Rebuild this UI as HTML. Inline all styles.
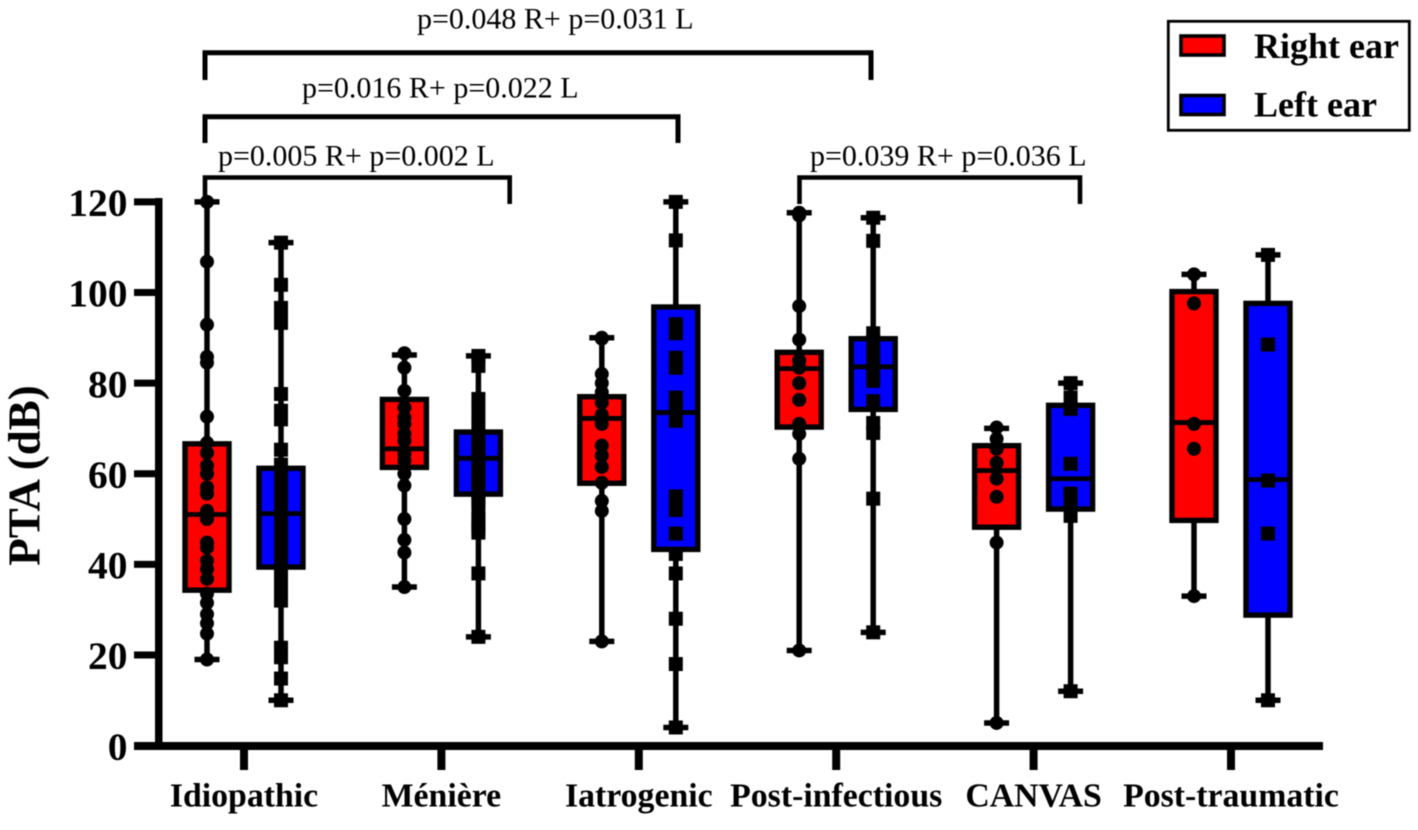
<!DOCTYPE html>
<html lang="en">
<head>
<meta charset="utf-8">
<title>PTA by vestibular aetiology</title>
<style>
  html, body { margin: 0; padding: 0; background: #fff; }
  #chart { display: block; width: 1418px; height: 830px; filter: blur(0.5px); }
  text { font-family: "Liberation Serif", serif; fill: #000; }
  .bold { font-weight: bold; }
</style>
</head>
<body>
<svg id="chart" xmlns="http://www.w3.org/2000/svg" width="1418" height="830" viewBox="0 0 1418 830">
  <rect x="0" y="0" width="1418" height="830" fill="#fff"/>

  <g id="axes">
    <rect x="155" y="198" width="7.5" height="552" fill="#000"/>
    <rect x="134" y="742" width="1189" height="8" fill="#000"/>
  </g>
  <g id="ticks"></g>
  <text class="bold" font-size="45" text-anchor="middle" transform="translate(39.5 475.5) rotate(-90)">PTA (dB)</text>
  <g id="plot"></g>

  <g fill="none" stroke="#000" stroke-linecap="butt" stroke-linejoin="miter">
    <path stroke-width="5" d="M205 80 V52.7 H871 V80"/>
    <path stroke-width="5" d="M205 143 V116.7 H678 V143"/>
    <path stroke-width="4.6" d="M205 204 V177.5 H509.7 V204"/>
    <path stroke-width="4.6" d="M799.5 204 V177.5 H1080 V204"/>
  </g>
  <g font-size="30" fill="#111">
    <text x="417" y="28.5">p=0.048 R+ p=0.031 L</text>
    <text x="302" y="97.7">p=0.016 R+ p=0.022 L</text>
    <text x="218" y="165.7">p=0.005 R+ p=0.002 L</text>
    <text x="810" y="165.7">p=0.039 R+ p=0.036 L</text>
  </g>

  <g>
    <rect x="1168.3" y="21.3" width="241" height="109" fill="#fff" stroke="#000" stroke-width="2.8"/>
    <rect x="1181" y="36" width="43" height="19" fill="#ff0000" stroke="#000" stroke-width="3.6"/>
    <text class="bold" x="1254" y="58" font-size="36">Right ear</text>
    <rect x="1181" y="95.5" width="43" height="19" fill="#0000ff" stroke="#000" stroke-width="3.6"/>
    <text class="bold" x="1254" y="116.7" font-size="36">Left ear</text>
  </g>
</svg>

<script>
const categories = ["Idiopathic", "Ménière", "Iatrogenic", "Post-infectious", "CANVAS", "Post-traumatic"];
const yTickLabels = [0, 20, 40, 60, 80, 100, 120];

const rightMin = [19, 35, 23, 21, 5, 33];
const rightQ1 = [34.3, 61.4, 57.9, 70.3, 48.2, 49.7];
const rightMedian = [51, 65.5, 72.2, 83.2, 60.7, 71.3];
const rightQ3 = [66.6, 76.4, 77, 86.8, 66.2, 100.2];
const rightMax = [120, 86.2, 90, 117.6, 70, 104];

const leftMin = [10, 24, 4, 25, 12, 10];
const leftQ1 = [39.4, 55.5, 43.3, 74.2, 52.2, 28.8];
const leftMedian = [51.2, 63.4, 73.5, 83.6, 58.9, 58.7];
const leftQ3 = [61.2, 69.2, 96.8, 89.8, 75.1, 97.6];
const leftMax = [111, 86, 120, 116.5, 80, 108.3];

const rightPointsIdiopathic = [120, 106.8, 92.9, 85.8, 84.5, 72.6, 66.8, 64.6, 61.8, 60, 57, 55.6, 51.8, 50, 44.8, 43.7, 40.8, 39, 36.8, 33.5, 31.5, 29, 27, 24.7, 19];
const rightPointsMeniere = [86.6, 83.4, 78.3, 74.6, 72.4, 71, 68.8, 67.3, 64.4, 62.9, 60, 57.4, 50, 45.4, 42.6, 35];
const rightPointsIatrogenic = [90, 89.8, 82, 80, 78, 75.7, 73, 71, 66.2, 64, 61.5, 58, 54, 51.8, 23];
const rightPointsPostInfectious = [117.6, 117, 97, 89.6, 85, 83.4, 80, 76.3, 71, 68.8, 63.3, 21];
const rightPointsCanvas = [70.2, 67.7, 65.5, 62.4, 58.9, 54.9, 44.8, 5];
const rightPointsPostTraumatic = [104, 97.6, 71, 65.5, 33];
const rightPoints = [rightPointsIdiopathic, rightPointsMeniere, rightPointsIatrogenic, rightPointsPostInfectious, rightPointsCanvas, rightPointsPostTraumatic];

const leftPointsIdiopathic = [111, 101.7, 96.6, 95, 93.3, 77.6, 73.9, 72, 65.3, 62, 60, 58, 56, 54, 52, 51, 50, 48, 46, 44, 42, 41, 40, 38, 37, 36, 34, 33, 32, 21.6, 19.5, 14.8, 10];
const leftPointsMeniere = [86, 83.8, 76.5, 73.5, 70.6, 68, 66, 64, 63, 62, 60, 58, 56, 55, 54, 52, 50, 49, 48, 47, 38, 24];
const leftPointsIatrogenic = [120, 111.5, 93, 91, 85.6, 83.4, 76.8, 74.6, 71.7, 55, 52, 46.8, 42.3, 38, 28, 18, 4];
const leftPointsPostInfectious = [116.5, 111.4, 91, 89.3, 87, 85, 82.7, 80.5, 76, 71.2, 69, 54.5, 25];
const leftPointsCanvas = [80, 76.8, 74.3, 62.2, 55.6, 53.4, 50.7, 12];
const leftPointsPostTraumatic = [108.3, 88.5, 58.5, 46.8, 10];
const leftPoints = [leftPointsIdiopathic, leftPointsMeniere, leftPointsIatrogenic, leftPointsPostInfectious, leftPointsCanvas, leftPointsPostTraumatic];

const SVG_NS = "http://www.w3.org/2000/svg";
function yScale(v) { return 745.6 - v * 4.531; }
function xCategory(i) { return 244 + i * 197.4; }
function make(tag, attrs, parent, content) {
  const el = document.createElementNS(SVG_NS, tag);
  Object.keys(attrs).forEach(function (k) { el.setAttribute(k, attrs[k]); });
  if (content !== undefined) el.textContent = content;
  parent.appendChild(el);
  return el;
}

const tickLayer = document.getElementById("ticks");
yTickLabels.forEach(function (t) {
  const y = yScale(t);
  const tick = make("rect", { x: 134, y: y - 3.5, width: 22, height: 7, fill: "#000" }, tickLayer);
  
  
  const label = make("text", { x: 127.5, y: y + 14.2, "text-anchor": "end", "font-size": 39.5, "class": "bold" }, tickLayer, String(t));
  
  
});
categories.forEach(function (c, i) {
  const x = xCategory(i);
  const slug = c.toLowerCase();
  const tick = make("rect", { x: x - 4, y: 748, width: 8, height: 22, fill: "#000" }, tickLayer);
  
  
  const label = make("text", { x: x, y: 806.7, "text-anchor": "middle", "font-size": 33.8, "class": "bold" }, tickLayer, c);
  
  
});

function drawBox(parent, cx, fill, name, min, q1, med, q3, max, pts, shape) {
  const g = make("g", {}, parent);
  
  
  const whisker = make("path", {
    d: "M" + cx + " " + yScale(max) + " V" + yScale(q3) + " M" + cx + " " + yScale(q1) + " V" + yScale(min),
    stroke: "#000", "stroke-width": 5.5, fill: "none"
  }, g);
  
  
  const caps = make("path", {
    d: "M" + (cx - 12.5) + " " + yScale(max) + " H" + (cx + 12.5) + " M" + (cx - 12.5) + " " + yScale(min) + " H" + (cx + 12.5),
    stroke: "#000", "stroke-width": 5.5, fill: "none"
  }, g);
  
  
  const box = make("rect", {
    x: cx - 22, y: yScale(q3), width: 44, height: yScale(q1) - yScale(q3),
    fill: fill, stroke: "#000", "stroke-width": 5.4
  }, g);
  
  
  const medLine = make("line", {
    x1: cx - 22, x2: cx + 22, y1: yScale(med), y2: yScale(med),
    stroke: "#000", "stroke-width": 4.8
  }, g);
  
  
  pts.forEach(function (v) {
    let mark;
    if (shape === "circle") {
      mark = make("circle", { cx: cx, cy: yScale(v), r: 7, fill: "#000" }, g);
    } else {
      mark = make("rect", { x: cx - 7, y: yScale(v) - 7, width: 14, height: 14, fill: "#000" }, g);
    }
    
    
  });
}

const plot = document.getElementById("plot");
categories.forEach(function (c, i) {
  const slug = c.toLowerCase();
  drawBox(plot, xCategory(i) - 37, "#ff0000", "box-right-" + slug, rightMin[i], rightQ1[i], rightMedian[i], rightQ3[i], rightMax[i], rightPoints[i], "circle");
  drawBox(plot, xCategory(i) + 37, "#0000ff", "box-left-" + slug, leftMin[i], leftQ1[i], leftMedian[i], leftQ3[i], leftMax[i], leftPoints[i], "square");
});
</script>
</body>
</html>
